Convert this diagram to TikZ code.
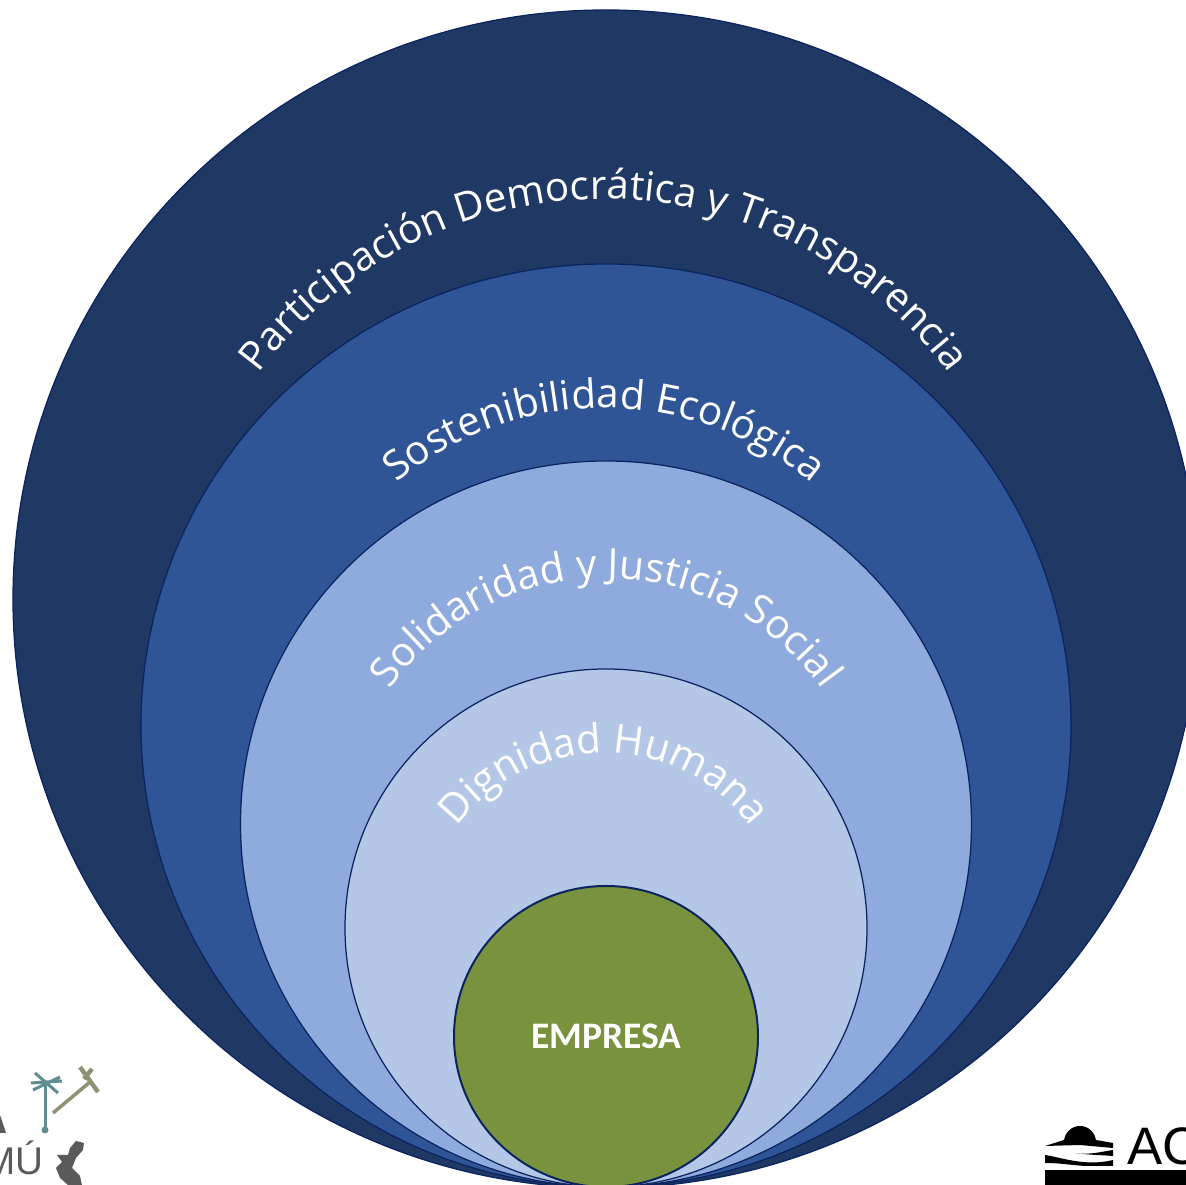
\documentclass[tikz,border=0pt]{standalone}
\usepackage{fontspec}
\setmainfont{Open Sans}
\newfontfamily\fuenteempresa{Carlito}
\newfontfamily\fuentelogo{Liberation Sans}
\usepackage{tikz}
\definecolor{azul900}{HTML}{1F3864}
\definecolor{azul700}{HTML}{2F5597}
\definecolor{azul400}{HTML}{8FAADC}
\definecolor{azul200}{HTML}{B4C7E7}
\definecolor{verde500}{HTML}{78923D}
\definecolor{borde}{HTML}{0B2460}
\definecolor{palmera}{HTML}{5F8D92}
\definecolor{martillo}{HTML}{8F9272}
\definecolor{gris}{HTML}{5A5A5A}
\usetikzlibrary{decorations.text,shapes.geometric}
\newcommand{\fuentearco}{\fontsize{23}{25}\selectfont}
\tikzset{
	anillo/.style={ellipse, draw=borde, line width=0.25mm, inner sep=0},
	arco/.style={decorate, decoration={text along path, text align=center, text color=white, text={|\fuentearco|#1}}}
}

\begin{document}
\begin{tikzpicture}[x=0.2mm,y=0.2mm]
	\useasboundingbox (0,0) rectangle (1186,1185);
	\clip (0,0) rectangle (1186,1185);
	\node[anillo, fill=azul900, minimum width=237.2mm, minimum height=235.6mm] (participacion) at (606,586) {};
	\node[anillo, fill=azul700, minimum width=186mm, minimum height=184.6mm] (sostenibilidad) at (606,459.5) {};
	\node[anillo, fill=azul400, minimum width=146.2mm, minimum height=145.2mm] (solidaridad) at (606,361) {};
	\node[anillo, fill=azul200, minimum width=104.4mm, minimum height=103.6mm] (dignidad) at (606,257) {};
	\node[anillo, fill=verde500, line width=0.4mm, minimum width=60.8mm, minimum height=60.2mm, text=white, font=\fuenteempresa\bfseries\fontsize{21.3}{21.3}\selectfont] (empresa) at (606,148.5) {\raisebox{-0.6mm}{EMPRESA}};
	\path[arco={Participación Democrática y Transparencia}] ([shift={(604,558)}]170:428) arc (170:10:428);
	\path[arco={Sostenibilidad Ecológica}] ([shift={(604,452)}]165:325) arc (165:15:325);
	\path[arco={Solidaridad y Justicia Social}] ([shift={(606,342)}]180:265) arc (180:0:265);
	\path[arco={Dignidad Humana}] ([shift={(604,248)}]170:184) arc (170:10:184);
	% logo izquierdo
	\fill[gris] (0,70) -- (6,52) -- (0,52) -- cycle;
	\draw[palmera, line width=0.6mm] (45,102) -- (45,55);
	\fill[palmera] (45,55) circle (3.5);
	\draw[palmera, line width=0.6mm] (31,102) -- (62,104) (35,112) -- (58,92) (33,95) -- (60,108);
	\draw[martillo, line width=0.7mm] (53,72) -- (90,103);
	\draw[martillo, line width=0.9mm] (80,118) -- (98,93) (84,106) -- (92,116);
	\node[text=gris, font=\fuentelogo\fontsize{22}{22}\selectfont, inner sep=0, anchor=base east] (mu) at (44,10) {MÚ};
	\fill[gris] (84,42) -- (76,44) -- (70,37) -- (68,30) -- (57,30) -- (62,23) -- (56,17) -- (60,7) -- (68,0) -- (82,0) -- (80,9) -- (72,17) -- (76,27) -- (83,35) -- cycle;
	% logo derecho
	\fill[black] (1064,43) arc (180:0:16) -- cycle;
	\fill[black] (1045,39) -- (1064,45) -- (1096,45) -- (1113,42) -- (1113,37) -- (1080,40) -- cycle;
	\fill[black] (1075,32) .. controls (1090,30) and (1100,33) .. (1113,35) -- (1113,29) .. controls (1100,30) and (1090,30) .. cycle;
	\fill[black] (1045,30) .. controls (1060,28) and (1085,18) .. (1113,25) -- (1113,19) -- (1085,19) .. controls (1070,20) and (1060,22) .. (1045,22) -- cycle;
	\fill[black] (1045,0) rectangle (1186,15);
	\node[text=black, font=\fuentelogo\fontsize{30}{30}\selectfont, inner sep=0, anchor=base west] (ac) at (1127,20) {AC};
\end{tikzpicture}
\end{document}
